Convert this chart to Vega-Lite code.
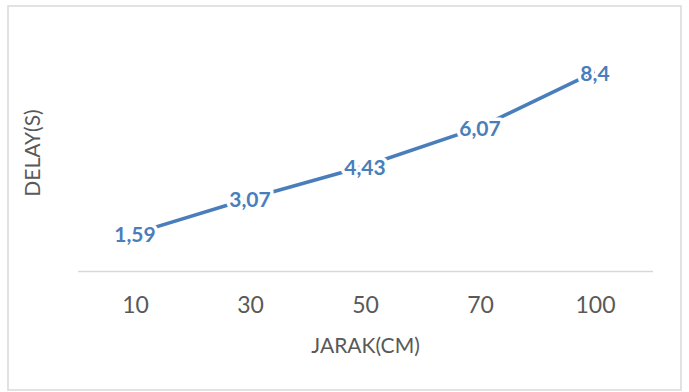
{
  "$schema": "https://vega.github.io/schema/vega-lite/v6.json",
  "width": 673,
  "height": 384,
  "autosize": "none",
  "padding": {"left": 8, "top": 6, "right": 8, "bottom": 2},
  "background": "white",
  "config": {
    "font": "Lato",
    "view": {"stroke": "#d9d9d9", "strokeWidth": 1.5},
    "locale": {
      "number": {"decimal": ",", "thousands": ".", "grouping": [3], "currency": ["", ""]}
    }
  },
  "data": {
    "values": [
      {"jarak": 10, "delay": 1.59},
      {"jarak": 30, "delay": 3.07},
      {"jarak": 50, "delay": 4.43},
      {"jarak": 70, "delay": 6.07},
      {"jarak": 100, "delay": 8.4}
    ]
  },
  "encoding": {
    "x": {
      "field": "jarak",
      "type": "ordinal",
      "sort": null,
      "scale": {"range": [69.5, 644.5], "paddingInner": 0, "paddingOuter": 0},
      "axis": {
        "title": "JARAK(CM)",
        "labelAngle": 0,
        "offset": -119,
        "domainColor": "#d9d9d9",
        "domainWidth": 1.5,
        "ticks": false,
        "grid": false,
        "labelFont": "Lato",
        "labelFontSize": 23,
        "labelColor": "#595959",
        "labelPadding": 23,
        "titleFont": "Lato",
        "titleFontSize": 21,
        "titleFontWeight": "normal",
        "titleColor": "#595959",
        "titlePadding": 18
      }
    },
    "y": {
      "field": "delay",
      "type": "quantitative",
      "scale": {"domain": [0, 10], "range": [265, 28]},
      "axis": {
        "title": "DELAY(S)",
        "labels": false,
        "ticks": false,
        "domain": false,
        "grid": false,
        "offset": -41,
        "titleFont": "Lato",
        "titleFontSize": 21,
        "titleFontWeight": "normal",
        "titleColor": "#595959",
        "titlePadding": 6
      }
    }
  },
  "layer": [
    {
      "mark": {"type": "line", "color": "#4a7ebb", "strokeWidth": 3.5}
    },
    {
      "mark": {
        "type": "text",
        "fontSize": 21,
        "fontWeight": "bold",
        "dy": 3,
        "stroke": "white",
        "strokeWidth": 7,
        "strokeJoin": "round",
        "fill": "white"
      },
      "encoding": {"text": {"field": "delay", "type": "quantitative", "format": "~g"}}
    },
    {
      "mark": {
        "type": "text",
        "fontSize": 21,
        "fontWeight": "bold",
        "dy": 3,
        "color": "#4a7ebb"
      },
      "encoding": {"text": {"field": "delay", "type": "quantitative", "format": "~g"}}
    }
  ]
}
